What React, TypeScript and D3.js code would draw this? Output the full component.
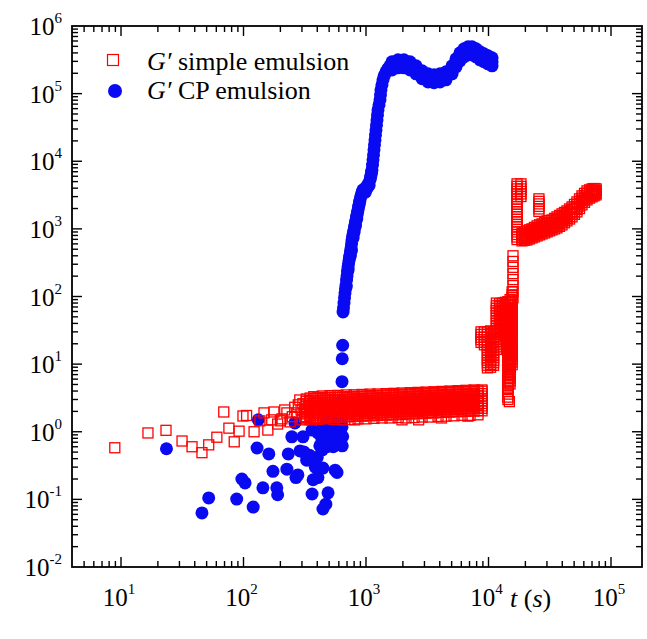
import React, { useEffect, useRef } from 'react';
import * as d3 from 'd3';

// G' simple emulsion: sparse early points [t, G]
const simpleEarly: number[][] = [
  [8.9, 0.58], [16.6, 0.96], [23.3, 1.05], [31.5, 0.73], [38, 0.6], [45.8, 0.49], [52, 0.64],
  [60.6, 0.83], [69, 1.96], [76, 1.13], [84, 0.71], [92, 1.02], [99, 1.71], [106, 1.74],
  [122, 1.0], [136, 1.45], [147, 1.9], [158, 1.06], [170, 1.5], [177, 1.96], [190, 1.3],
  [200, 1.45], [206, 1.55], [217, 2.1], [226, 1.9], [240, 1.4], [250, 1.67], [262, 2.3],
  [273, 1.9], [280, 2.5], [288, 2.95], [295, 2.1], [300, 1.5], [305, 2.6], [312, 1.9],
  [315, 1.67], [383, 1.9], [481, 1.66], [809, 1.5], [1967, 1.5], [2690, 1.5], [4130, 1.6],
  [6800, 1.7], [14800, 2.79],
];

// dense band, rows of [t, G...]
const simpleBand: number[][] = [
  [325, 1.55, 1.68, 1.83, 1.99, 2.17, 2.36, 2.57, 2.8, 3.05, 1.62],
  [350, 1.6, 1.74, 1.9, 2.07, 2.25, 2.45, 2.67, 2.9, 3.15, 1.5],
  [375, 1.58, 1.72, 1.87, 2.03, 2.21, 2.41, 2.62, 2.85, 3.1, 3.3],
  [405, 1.62, 1.76, 1.92, 2.09, 2.27, 2.47, 2.69, 2.93, 3.18, 1.52],
  [440, 1.6, 1.74, 1.89, 2.05, 2.23, 2.43, 2.64, 2.87, 3.12, 3.38],
  [470, 1.64, 1.78, 1.94, 2.11, 2.29, 2.5, 2.72, 2.96, 3.22, 1.55],
  [510, 1.62, 1.76, 1.91, 2.08, 2.26, 2.46, 2.68, 2.92, 3.18, 3.42],
  [550, 1.66, 1.8, 1.96, 2.13, 2.32, 2.52, 2.74, 2.98, 3.24, 1.52],
  [590, 1.64, 1.78, 1.93, 2.1, 2.28, 2.48, 2.7, 2.94, 3.2, 3.45],
  [640, 1.68, 1.82, 1.98, 2.15, 2.34, 2.55, 2.77, 3.01, 3.28, 1.5],
  [690, 1.66, 1.8, 1.96, 2.13, 2.31, 2.51, 2.73, 2.97, 3.23, 3.5],
  [740, 1.7, 1.85, 2.01, 2.18, 2.37, 2.58, 2.8, 3.05, 3.31, 1.52],
  [800, 1.68, 1.82, 1.98, 2.15, 2.34, 2.54, 2.76, 3.0, 3.26, 3.52],
  [860, 1.72, 1.87, 2.03, 2.21, 2.4, 2.61, 2.84, 3.08, 3.35, 1.55],
  [930, 1.7, 1.85, 2.01, 2.18, 2.37, 2.58, 2.8, 3.04, 3.3, 3.56],
  [1000, 1.74, 1.89, 2.06, 2.24, 2.43, 2.64, 2.87, 3.12, 3.39, 1.55],
  [1080, 1.72, 1.87, 2.03, 2.21, 2.4, 2.61, 2.84, 3.09, 3.36, 3.6],
  [1160, 1.76, 1.91, 2.08, 2.26, 2.46, 2.67, 2.9, 3.16, 3.43, 1.58],
  [1250, 1.74, 1.89, 2.06, 2.24, 2.43, 2.64, 2.87, 3.12, 3.39, 3.62],
  [1350, 1.78, 1.94, 2.1, 2.29, 2.49, 2.7, 2.94, 3.19, 3.47, 1.6],
  [1460, 1.76, 1.91, 2.08, 2.26, 2.46, 2.67, 2.9, 3.16, 3.43, 3.66],
  [1570, 1.8, 1.96, 2.13, 2.31, 2.51, 2.73, 2.97, 3.23, 3.51, 1.6],
  [1690, 1.78, 1.94, 2.1, 2.29, 2.49, 2.7, 2.94, 3.19, 3.47, 3.7],
  [1830, 1.83, 1.99, 2.16, 2.35, 2.55, 2.77, 3.01, 3.28, 3.56, 1.62],
  [1970, 1.8, 1.96, 2.13, 2.31, 2.51, 2.73, 2.97, 3.23, 3.51, 3.74],
  [2120, 1.85, 2.01, 2.19, 2.38, 2.58, 2.81, 3.05, 3.32, 3.6, 1.6],
  [2290, 1.83, 1.99, 2.16, 2.35, 2.55, 2.77, 3.01, 3.28, 3.56, 3.78],
  [2470, 1.88, 2.04, 2.22, 2.41, 2.62, 2.85, 3.1, 3.37, 3.66, 1.62],
  [2660, 1.85, 2.01, 2.19, 2.38, 2.58, 2.81, 3.05, 3.32, 3.6, 3.82],
  [2870, 1.9, 2.07, 2.25, 2.44, 2.66, 2.89, 3.14, 3.41, 3.71, 1.65],
  [3090, 1.88, 2.04, 2.22, 2.41, 2.62, 2.85, 3.1, 3.37, 3.66, 3.86],
  [3330, 1.93, 2.1, 2.28, 2.48, 2.69, 2.93, 3.18, 3.46, 3.76, 1.65],
  [3590, 1.9, 2.07, 2.25, 2.44, 2.66, 2.89, 3.14, 3.41, 3.71, 3.9],
  [3870, 1.95, 2.12, 2.31, 2.51, 2.73, 2.96, 3.22, 3.5, 3.81, 1.68],
  [4170, 1.93, 2.1, 2.28, 2.48, 2.69, 2.93, 3.18, 3.46, 3.76, 3.95],
  [4500, 1.98, 2.15, 2.34, 2.54, 2.76, 3.0, 3.26, 3.55, 3.86, 1.7],
  [4850, 1.95, 2.12, 2.31, 2.51, 2.73, 2.96, 3.22, 3.5, 3.81, 4.0],
  [5230, 2.0, 2.17, 2.36, 2.57, 2.79, 3.04, 3.3, 3.59, 3.9, 1.72],
  [5640, 1.98, 2.15, 2.34, 2.54, 2.76, 3.0, 3.26, 3.55, 3.86, 4.05],
  [6080, 2.02, 2.2, 2.39, 2.6, 2.82, 3.07, 3.34, 3.63, 3.95, 1.75],
  [6550, 2.0, 2.17, 2.36, 2.57, 2.79, 3.04, 3.3, 3.59, 3.9, 4.1],
  [7070, 2.04, 2.22, 2.41, 2.62, 2.85, 3.1, 3.37, 3.66, 3.98, 1.75],
  [7620, 2.02, 2.2, 2.39, 2.6, 2.82, 3.07, 3.34, 3.63, 3.95, 4.15],
  [8210, 2.06, 2.24, 2.44, 2.65, 2.88, 3.13, 3.4, 3.7, 4.02, 1.78],
  [8850, 2.04, 2.22, 2.41, 2.62, 2.85, 3.1, 3.37, 3.66, 3.98, 4.15],
];

// jump around 10^4, rows of [t, G...]
const simpleJump: number[][] = [
  [8690, 30, 27.5, 25, 23, 21],
  [9250, 30, 27.5, 25, 23, 21, 19.3],
  [9800, 30, 27.5, 25, 23, 21, 19.3, 17.7, 16.2, 14.8, 13.6, 12.5, 11.4, 10.5, 9.6, 8.8],
  [10400, 31, 28.5, 26, 24, 22, 20, 18.3, 16.8, 15.4, 14.1, 12.9, 11.8, 10.8, 9.9, 9.0],
  [11000, 30, 27.5, 25, 23, 21, 19.3, 17.7, 16.2, 14.8, 13.6, 12.5, 11.4, 10.5, 9.6],
  [11600, 80, 73, 67, 61.5, 56.5, 52, 47.5, 43.5, 40, 36.5, 33.5, 30.7, 28, 25.7, 23.5, 21.5, 19.7, 18, 16.5],
  [12300, 78, 71, 65, 60, 55, 50, 46, 42, 38.5, 35.5, 32.5, 30],
  [13000, 80, 73, 67, 61.5, 56.5, 52, 47.5, 43.5, 40, 36.5, 33.5, 30.7],
  [13700, 82, 75, 69, 63, 58, 53, 48.5, 44.5, 41, 37.5, 34.5, 31.5, 29, 26.5],
  [14400, 84, 76, 69, 63, 57, 52, 47, 43, 39, 35.5, 32, 29, 26.5, 24, 22, 20, 18.2, 16.5, 15, 13.6,
    12.4, 11.3, 10.2, 9.3, 8.5, 7.7, 7, 6.4, 5.8, 5.3, 4.8, 4.35, 3.95, 3.6, 3.25, 3.0],
  [15000, 90, 82, 74.5, 67.5, 61.5, 56, 51, 46, 42, 38, 34.5, 31.5, 28.5, 26, 23.5, 21.5, 19.5, 17.7,
    16.1, 14.6, 13.3, 12.1, 11, 10, 9.1, 8.3, 7.5, 6.8, 6.2, 5.6, 5.1],
  [15600, 117, 106, 97, 88, 80, 73, 66, 60, 55, 50, 45.5, 41.5, 37.5, 34, 31, 28, 25.5, 23, 21, 19,
    17.3, 15.7, 14.3, 13, 11.8, 10.7, 9.8],
  [15850, 400, 330, 270, 218, 178, 145, 118, 96],
  [17100, 4630, 4250, 3900, 3580, 3280, 3010, 2760, 2530, 2320, 2130, 1950, 1790, 1640, 1510, 1380,
    1270, 1160, 1070, 980, 900, 825, 757, 695],
  [18400, 4630, 4250, 3900, 3580, 3280, 3010],
  [25800, 2780, 2550, 2340, 2150, 1970, 1810],
];

// late rising branch, rows of [t, G...] (top to bottom of the band)
const simpleLate: number[][] = [
  [18760, 860, 806, 755, 708, 664], [19700, 900, 838, 780, 726, 676],
  [20610, 934, 865, 801, 742, 687], [21600, 970, 897, 830, 768, 710],
  [22650, 1000, 926, 857, 794, 736], [23700, 1050, 968, 893, 824, 760],
  [24890, 1107, 1016, 933, 857, 787], [26100, 1150, 1055, 968, 888, 815],
  [27350, 1186, 1089, 1000, 918, 843], [28700, 1250, 1142, 1043, 953, 870],
  [30060, 1312, 1195, 1088, 991, 903], [31500, 1330, 1218, 1115, 1021, 935],
  [32980, 1356, 1245, 1144, 1051, 966], [34600, 1430, 1308, 1196, 1094, 1000],
  [36240, 1505, 1371, 1248, 1137, 1035], [38000, 1580, 1440, 1313, 1196, 1090],
  [39810, 1666, 1517, 1382, 1259, 1146], [41700, 1750, 1602, 1467, 1343, 1230],
  [43750, 1845, 1694, 1556, 1429, 1312], [45900, 1970, 1809, 1661, 1525, 1400],
  [48080, 2114, 1942, 1784, 1638, 1505], [50300, 2300, 2113, 1942, 1785, 1640],
  [52720, 2506, 2302, 2114, 1941, 1782], [55300, 2780, 2560, 2358, 2171, 2000],
  [57940, 3076, 2849, 2640, 2444, 2265], [60800, 3350, 3104, 2877, 2666, 2470],
  [63680, 3648, 3378, 3130, 2898, 2685], [66800, 3780, 3522, 3283, 3059, 2850],
  [69980, 3908, 3649, 3408, 3182, 2972], [72700, 3950, 3712, 3488, 3278, 3080],
  [75510, 3908, 3712, 3526, 3350, 3184],
];

// G' CP emulsion
const cpScatter: number[][] = [
  [23.5, 0.56], [45.8, 0.063], [52, 0.105], [88, 0.101], [97, 0.2], [103, 0.175], [120, 0.077],
  [129, 0.575], [132, 1.5], [144, 0.148], [161, 0.47], [174, 0.26], [187, 0.148], [190, 0.117],
  [226, 0.28], [232, 0.47], [248, 0.84], [263, 1.35], [268, 0.21], [278, 0.23], [289, 0.52],
  [306, 0.84], [312, 0.5], [328, 0.38], [345, 0.45], [363, 0.12], [370, 0.195], [372, 0.41],
  [385, 0.3], [400, 0.42], [405, 0.21], [437, 0.76], [445, 0.29], [445, 0.072], [470, 0.085],
  [490, 0.125], [560, 0.27], [580, 0.25],
  [363, 1.06], [405, 0.96], [420, 0.62], [445, 1.18], [440, 0.54], [460, 0.7], [480, 0.6],
  [480, 0.85], [490, 1.3], [508, 1.5], [508, 0.76], [530, 0.96], [540, 0.6], [550, 1.2],
  [560, 1.6], [580, 1.0], [590, 0.7], [610, 1.35], [610, 0.81], [620, 1.05], [637, 1.6],
  [637, 1.18], [640, 0.62], [645, 0.85], [637, 1.9], [637, 2.9], [637, 5.5],
];

const cpRise: number[][] = [
  [640, 12], [645, 19], [650, 59], [655, 68], [661, 80], [668, 96], [674, 113], [680, 130],
  [687, 149], [690, 140], [694, 175], [700, 202], [707, 235], [713, 274], [715, 250], [720, 305],
  [727, 340], [733, 375], [740, 412], [745, 400], [748, 465], [755, 523], [760, 480], [762, 600],
  [769, 687], [777, 750], [784, 810], [785, 740], [791, 890], [798, 966], [800, 900], [806, 1050],
  [813, 1150], [820, 1100], [821, 1250], [829, 1360], [837, 1490], [840, 1400], [845, 1620],
  [853, 1760], [861, 1910], [870, 2100], [878, 2280], [886, 2480], [894, 2690], [907, 3000],
  [920, 3300], [933, 3550], [945, 3780], [960, 3700], [975, 3900], [990, 3500], [1000, 4100],
  [1020, 4000], [1040, 4600], [1060, 4400], [1078, 5310], [1090, 5800], [1100, 6300],
  [1110, 6900], [1119, 7460], [1130, 8800], [1141, 10500], [1152, 12400], [1162, 14750],
  [1173, 17500], [1184, 20700], [1195, 24500], [1207, 29100], [1218, 34500], [1230, 40900],
  [1241, 48500], [1253, 57500], [1277, 68000], [1301, 80900], [1313, 96000], [1325, 113700],
  [1350, 135000], [1376, 160000], [1410, 185000], [1456, 210000], [1510, 235000], [1570, 258000],
];

// plateau, rows of [t, top, mid, bottom]
const cpPlateau: number[][] = [
  [1630, 2.95e5, 2.57e5, 2.24e5], [1825, 3.16e5, 2.76e5, 2.41e5], [2040, 3.16e5, 2.76e5, 2.41e5],
  [2290, 2.95e5, 2.57e5, 2.24e5], [2560, 2.58e5, 2.25e5, 1.96e5], [2870, 2.18e5, 1.9e5, 1.66e5],
  [3210, 1.96e5, 1.71e5, 1.49e5], [3590, 1.9e5, 1.66e5, 1.45e5], [4020, 1.96e5, 1.71e5, 1.49e5],
  [4500, 2.1e5, 1.83e5, 1.6e5], [5040, 2.58e5, 2.25e5, 1.96e5], [5430, 3.28e5, 2.86e5, 2.49e5],
  [5850, 4.01e5, 3.5e5, 3.05e5], [6310, 4.6e5, 4.01e5, 3.5e5], [6810, 4.93e5, 4.3e5, 3.75e5],
  [7330, 4.93e5, 4.3e5, 3.75e5], [7910, 4.6e5, 4.01e5, 3.5e5], [8530, 4.15e5, 3.62e5, 3.16e5],
  [9180, 3.88e5, 3.39e5, 2.96e5], [9910, 3.62e5, 3.16e5, 2.76e5], [10690, 3.38e5, 2.95e5, 2.58e5],
];

const xExponents = [1, 2, 3, 4, 5];
const yExponents = [-2, -1, 0, 1, 2, 3, 4, 5, 6];

const RED = '#ff0000';
const BLUE = '#0a0af2';
const FONT = '"Liberation Serif", "Times New Roman", serif';

const rows = (r: number[][]) => r.flatMap(([t, ...gs]) => gs.map((g) => [t, g]));

const App = () => {
  const svgRef = useRef<SVGSVGElement>(null);

  useEffect(() => {
    const svg = d3.select(svgRef.current);
    svg.selectAll('*').remove();

    const left = 72, right = 642, top = 26, bottom = 567;

    const x = d3.scaleLog().domain([Math.pow(10, 0.6), Math.pow(10, 5.253)]).range([left, right]);
    const y = d3.scaleLog().domain([1e-2, 1e6]).range([bottom, top]);

    svg.append('rect').attr('width', 647).attr('height', 639).attr('fill', '#fff');

    // CP emulsion (blue dots) drawn first
    const blue = [...cpScatter, ...cpRise, ...rows(cpPlateau)];
    svg.append('g')
      .selectAll('circle')
      .data(blue)
      .join('circle')
      .attr('cx', (d) => x(d[0]))
      .attr('cy', (d) => y(d[1]))
      .attr('r', 6.5)
      .attr('fill', BLUE);

    // simple emulsion (red open squares)
    const red = [...simpleEarly, ...rows(simpleBand), ...rows(simpleJump), ...rows(simpleLate)];
    const s = 10;
    svg.append('g')
      .selectAll('rect')
      .data(red)
      .join('rect')
      .attr('x', (d) => x(d[0]) - s / 2)
      .attr('y', (d) => y(d[1]) - s / 2)
      .attr('width', s)
      .attr('height', s)
      .attr('fill', 'none')
      .attr('stroke', RED)
      .attr('stroke-width', 1.3);

    // frame
    svg.append('rect')
      .attr('x', left).attr('y', top)
      .attr('width', right - left).attr('height', bottom - top)
      .attr('fill', 'none').attr('stroke', '#000').attr('stroke-width', 1.8);

    // ticks (inward, all four sides)
    const ticks = svg.append('g').attr('stroke', '#000').attr('stroke-width', 1.4);
    const xd = x.domain();
    for (let e = 0; e <= 5; e++) {
      for (let m = 1; m <= 9; m++) {
        const v = m * Math.pow(10, e);
        if (v < xd[0] * 1.01 || v > xd[1]) continue;
        const len = m === 1 ? 10 : 6;
        const px = x(v);
        ticks.append('line').attr('x1', px).attr('x2', px).attr('y1', bottom).attr('y2', bottom - len);
        ticks.append('line').attr('x1', px).attr('x2', px).attr('y1', top).attr('y2', top + len);
      }
    }
    for (let e = -2; e <= 5; e++) {
      for (let m = 1; m <= 9; m++) {
        if (e === -2 && m === 1) continue;
        const v = m * Math.pow(10, e);
        const len = m === 1 ? 10 : 6;
        const py = y(v);
        ticks.append('line').attr('x1', left).attr('x2', left + len).attr('y1', py).attr('y2', py);
        ticks.append('line').attr('x1', right).attr('x2', right - len).attr('y1', py).attr('y2', py);
      }
    }

    // tick labels
    xExponents.forEach((e) => {
      const t = svg.append('text')
        .attr('x', x(Math.pow(10, e)) - 2)
        .attr('y', bottom + 39)
        .attr('text-anchor', 'middle')
        .attr('font-family', FONT)
        .attr('font-size', 25)
        .attr('fill', '#000');
      t.append('tspan').text('10');
      t.append('tspan').attr('font-size', 15).attr('dy', -12).text(String(e));
    });
    yExponents.forEach((e) => {
      const t = svg.append('text')
        .attr('x', 62)
        .attr('y', y(Math.pow(10, e)) + 9)
        .attr('text-anchor', 'end')
        .attr('font-family', FONT)
        .attr('font-size', 25)
        .attr('fill', '#000');
      t.append('tspan').text('10');
      t.append('tspan').attr('font-size', 15).attr('dy', -12).text(String(e));
    });

    // axis title
    const xt = svg.append('text')
      .attr('x', 510).attr('y', 607)
      .attr('font-family', FONT).attr('font-size', 26).attr('fill', '#000');
    xt.append('tspan').attr('font-style', 'italic').text('t');
    xt.append('tspan').text(' (');
    xt.append('tspan').attr('font-style', 'italic').text('s');
    xt.append('tspan').text(')');

    // legend
    svg.append('rect')
      .attr('x', 113 - 5.5).attr('y', 60 - 5.5).attr('width', 11).attr('height', 11)
      .attr('fill', 'none').attr('stroke', RED).attr('stroke-width', 1.2);
    svg.append('circle').attr('cx', 115).attr('cy', 91).attr('r', 7).attr('fill', BLUE);

    const legendText = [
      { label: ' simple emulsion', y: 70 },
      { label: ' CP emulsion', y: 99 },
    ];
    legendText.forEach((l) => {
      const t = svg.append('text')
        .attr('x', 147).attr('y', l.y)
        .attr('font-family', FONT).attr('font-size', 26).attr('fill', '#000');
      t.append('tspan').attr('font-style', 'italic').text('G\u2032');
      t.append('tspan').text(l.label);
    });
  }, []);

  return (
    <svg
      ref={svgRef}
      width={647}
      height={639}
      style={{ position: 'absolute', left: 0, top: 0, display: 'block' }}
    />
  );
};

export default App;
